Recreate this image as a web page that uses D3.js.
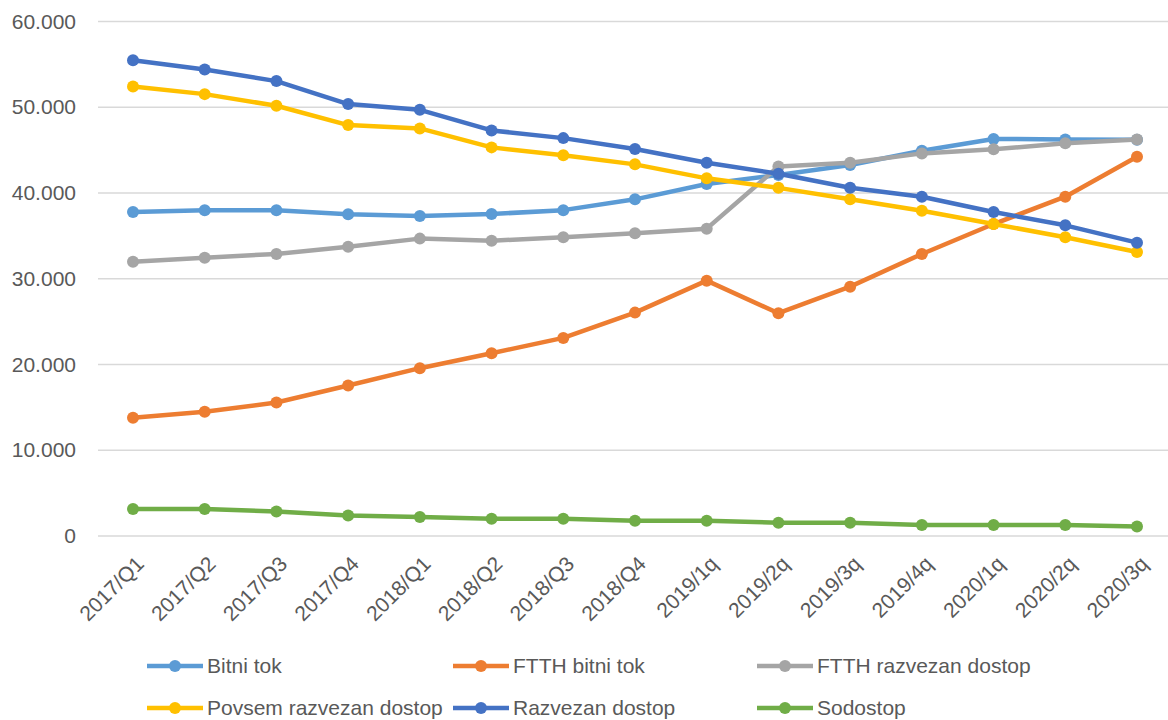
<!DOCTYPE html>
<html><head><meta charset="utf-8">
<script src="https://cdn.jsdelivr.net/npm/d3@7"></script>
<style>
html,body{margin:0;padding:0;background:#fff;}
svg{display:block;}
text{font-family:"Liberation Sans",Arial,sans-serif;fill:#595959;}
</style></head>
<body>
<svg id="chart" width="1168" height="720"></svg>
<script>
const categories = ["2017/Q1","2017/Q2","2017/Q3","2017/Q4","2018/Q1","2018/Q2","2018/Q3","2018/Q4","2019/1q","2019/2q","2019/3q","2019/4q","2020/1q","2020/2q","2020/3q"];
const bitniTok = [37780,38000,38000,37520,37320,37550,38000,39260,41050,42100,43260,44930,46300,46250,46200];
const ftthBitniTok = [13780,14480,15570,17550,19570,21320,23100,26050,29780,25980,29080,32890,36380,39570,44230];
const ftthRazvezanDostop = [31990,32460,32890,33740,34680,34440,34840,35300,35840,43100,43530,44620,45090,45790,46250];
const povsemRazvezanDostop = [52430,51530,50170,47920,47530,45320,44390,43340,41710,40600,39260,37940,36390,34840,33120];
const razvezanDostop = [55490,54410,53050,50370,49700,47300,46400,45130,43530,42250,40620,39570,37780,36230,34210];
const sodostop = [3150,3150,2870,2400,2210,2020,2020,1780,1780,1550,1550,1280,1280,1280,1120];
const seriesNames = ["Bitni tok","FTTH bitni tok","FTTH razvezan dostop","Povsem razvezan dostop","Razvezan dostop","Sodostop"];
const seriesValues = [bitniTok, ftthBitniTok, ftthRazvezanDostop, povsemRazvezanDostop, razvezanDostop, sodostop];
const seriesColors = ["#5B9BD5","#ED7D31","#A5A5A5","#FFC000","#4472C4","#70AD47"];
const yTicks = [0,10000,20000,30000,40000,50000,60000];

const svg = d3.select("#chart");
const x = d3.scalePoint().domain(categories).range([133,1137]);
const y = d3.scaleLinear().domain([0,60000]).range([536,21.5]);
const loc = d3.formatLocale({decimal:",", thousands:".", grouping:[3], currency:["",""]});
const fmt = loc.format(",d");

// gridlines
svg.append("g").selectAll("line").data(yTicks).join("line")
  .attr("x1",98).attr("x2",1168)
  .attr("y1",d=>y(d)).attr("y2",d=>y(d))
  .attr("stroke","#D9D9D9").attr("stroke-width",1.5);

// y axis labels
const yAxis = d3.axisLeft(y).tickValues(yTicks).tickFormat(fmt).tickSize(0).tickPadding(0);
const ya = svg.append("g").attr("transform","translate(76,0)").call(yAxis);
ya.select(".domain").remove();
ya.selectAll("text").attr("font-size",21).attr("fill","#595959")
  .attr("font-family","Liberation Sans, Arial, sans-serif");

// x labels
const xAxis = d3.axisBottom(x).tickSize(0).tickPadding(0);
const xa = svg.append("g").attr("transform","translate(0,0)").call(xAxis);
xa.select(".domain").remove();
xa.selectAll(".tick").attr("transform",d=>`translate(${x(d)+7},560)`);
xa.selectAll("text").attr("font-size",21).attr("fill","#595959")
  .attr("font-family","Liberation Sans, Arial, sans-serif")
  .attr("text-anchor","end").attr("dy","0.35em").attr("y",0)
  .attr("transform","rotate(-45)");

// lines
const line = d3.line().x((d,i)=>x(categories[i])).y(d=>y(d));
seriesValues.forEach((vals,si)=>{
  const g = svg.append("g");
  g.append("path").datum(vals).attr("d",line)
    .attr("fill","none").attr("stroke",seriesColors[si]).attr("stroke-width",4.5)
    .attr("stroke-linejoin","round").attr("stroke-linecap","round");
  g.selectAll("circle").data(vals).join("circle")
    .attr("cx",(d,i)=>x(categories[i])).attr("cy",d=>y(d)).attr("r",6)
    .attr("fill",seriesColors[si]);
});

// legend
const legX = [147,453,757];
const legY = [666,708];
seriesNames.forEach((name,i)=>{
  const lx = legX[i%3], ly = legY[Math.floor(i/3)];
  const g = svg.append("g");
  g.append("line").attr("x1",lx).attr("x2",lx+56).attr("y1",ly).attr("y2",ly)
    .attr("stroke",seriesColors[i]).attr("stroke-width",4.5);
  g.append("circle").attr("cx",lx+28).attr("cy",ly).attr("r",6).attr("fill",seriesColors[i]);
  g.append("text").attr("x",lx+60).attr("y",ly).attr("dy","0.35em")
    .attr("font-size",21).text(name);
});
</script>
</body></html>
